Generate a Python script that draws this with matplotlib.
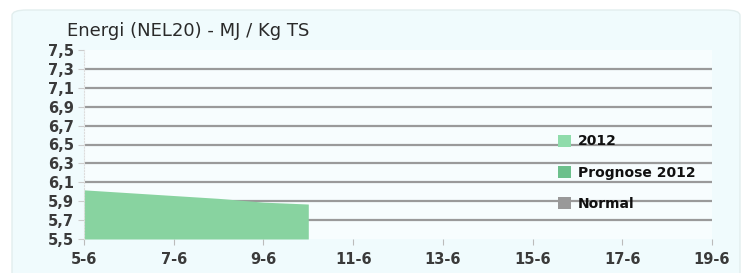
import matplotlib
matplotlib.use("Agg")
import matplotlib.pyplot as plt
from matplotlib.patches import FancyBboxPatch, Patch

days = [0, 1, 2, 3, 4, 5]
values_2012 = [6.02, 5.99, 5.96, 5.93, 5.89, 5.87]
xtick_pos = [0, 2, 4, 6, 8, 10, 12, 14]
xtick_labels = ["5-6", "7-6", "9-6", "11-6", "13-6", "15-6", "17-6", "19-6"]
ytick_vals = [5.5, 5.7, 5.9, 6.1, 6.3, 6.5, 6.7, 6.9, 7.1, 7.3, 7.5]
ytick_labels = ["5,5", "5,7", "5,9", "6,1", "6,3", "6,5", "6,7", "6,9", "7,1", "7,3", "7,5"]
legend_labels = ["2012", "Prognose 2012", "Normal"]
legend_colors = ["#8fdcab", "#6cc08c", "#999999"]
title = "Energi (NEL20) - MJ / Kg TS"

plt.rcParams['font.family'] = ['DejaVu Sans']

fig = plt.figure(figsize=(7.43, 2.73), dpi=100)
fig.patch.set_facecolor("white")
panel = FancyBboxPatch((12/743, -0.05), 728/743, 1 - 10/273 + 0.05,
                       boxstyle="round,pad=0,rounding_size=0.02",
                       transform=fig.transFigure, facecolor="#f0fbfd",
                       edgecolor="#e2eeee", linewidth=1, zorder=-10)
fig.patches.append(panel)

ax = fig.add_axes([84/743, 1 - 239/273, (712-84)/743, (239-50)/273])
ax.set_zorder(5)
ax.set_facecolor("#f7fdfe")
ax.set_xlim(0, 14)
ax.set_ylim(5.5, 7.5)

for y in ytick_vals[1:-1]:
    ax.axhline(y, color="#9a9a9a", lw=1.6, xmin=0.003, zorder=1)

ax.fill_between(days, 5.5, values_2012, color="#88d3a0", lw=0, zorder=2)

ax.set_yticks(ytick_vals)
ax.set_yticklabels(ytick_labels, fontsize=10.5, fontweight="bold", color="#3a3a3a")
ax.set_xticks(xtick_pos)
ax.set_xticklabels(xtick_labels, fontsize=10.5, fontweight="bold", color="#3a3a3a")
ax.tick_params(axis="y", length=4, color="#cccccc", pad=3)
ax.tick_params(axis="x", length=4, color="#bbbbbb", pad=5, direction="out")
for s in ["top", "right", "bottom"]:
    ax.spines[s].set_visible(False)
ax.spines["left"].set_color("#dddddd")
ax.spines["left"].set_linestyle(":")

handles = [Patch(facecolor=c, edgecolor="none") for c in legend_colors]
leg = ax.legend(handles, legend_labels, loc="upper left", bbox_to_anchor=(0.735, 0.62),
                frameon=False, handlelength=0.95, handleheight=0.95, handletextpad=0.45,
                labelspacing=1.25, prop={"size": 10, "weight": "bold"})
for t in leg.get_texts():
    t.set_color("#111111")

fig.text(67/743, 1 - 31/273, title, fontsize=13, color="#2a2a2a", va="center")

fig.savefig("out.png", dpi=100)
